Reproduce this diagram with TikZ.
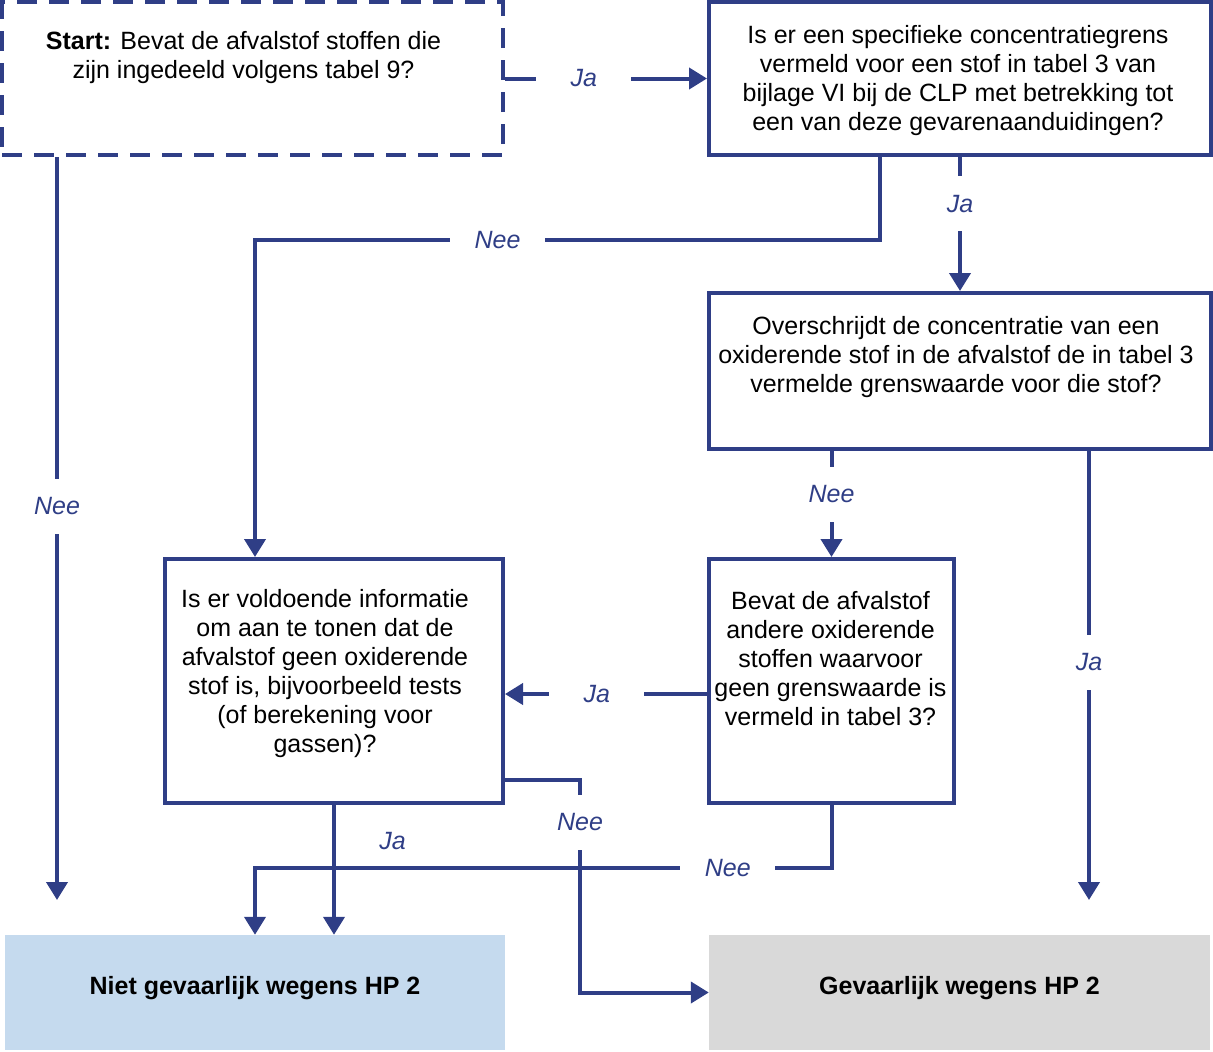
\documentclass[tikz,border=0pt]{standalone}
\usepackage{fontspec}
\setmainfont{Liberation Sans}
\usetikzlibrary{arrows.meta,positioning}
\definecolor{hpblauw}{RGB}{47,62,134}
\definecolor{hplicht}{RGB}{197,218,238}
\definecolor{hpgrijs}{RGB}{217,217,217}
\tikzset{
  vraag/.style={draw=hpblauw, line width=4pt, rectangle, inner sep=0pt},
  vraagtxt/.style={align=center, inner sep=0pt, anchor=north, font=\fontsize{25}{29}\selectfont},
  pijl/.style={draw=hpblauw, line width=4pt, -{Triangle[length=18pt,width=21pt]}},
  lbl/.style={fill=white, text=hpblauw, inner sep=0pt, minimum width=95pt, minimum height=55pt, font=\fontsize{25}{29}\selectfont\itshape},
  uitkomst/.style={rectangle, inner sep=0pt, text depth=15pt, font=\fontsize{25}{29}\selectfont\bfseries},
}
\begin{document}
\begin{tikzpicture}[x=1pt,y=-1pt]
    \useasboundingbox (0,0) rectangle (1213,1052);
    % vragen
    \node[vraag, dash pattern=on 20pt off 12pt, minimum width=501pt, minimum height=153pt] (start) at (252.5,78.5) {};
    \node[vraag, minimum width=502pt, minimum height=153pt] (clp) at (960,78.5) {};
    \node[vraag, minimum width=502pt, minimum height=156pt] (grens) at (960,371) {};
    \node[vraag, minimum width=338pt, minimum height=244pt] (info) at (334,681) {};
    \node[vraag, minimum width=245pt, minimum height=244pt] (andere) at (831.5,681) {};
    \node[vraagtxt] (starttxt) at ([xshift=-9pt,yshift=-31pt]start.north)
        {\textbf{Start:} Bevat de afvalstof stoffen die\\zijn ingedeeld volgens tabel 9?};
    \node[vraagtxt] (clptxt) at ([xshift=-2pt,yshift=-25pt]clp.north)
        {Is er een specifieke concentratiegrens\\vermeld voor een stof in tabel 3 van\\bijlage VI bij de CLP met betrekking tot\\een van deze gevarenaanduidingen?};
    \node[vraagtxt] (grenstxt) at ([xshift=-4pt,yshift=-25pt]grens.north)
        {Overschrijdt de concentratie van een\\oxiderende stof in de afvalstof de in tabel 3\\vermelde grenswaarde voor die stof?};
    \node[vraagtxt] (infotxt) at ([xshift=-9pt,yshift=-32pt]info.north)
        {Is er voldoende informatie\\om aan te tonen dat de\\afvalstof geen oxiderende\\stof is, bijvoorbeeld tests\\(of berekening voor\\gassen)?};
    \node[vraagtxt] (anderetxt) at ([xshift=-1pt,yshift=-34pt]andere.north)
        {Bevat de afvalstof\\andere oxiderende\\stoffen waarvoor\\geen grenswaarde is\\vermeld in tabel 3?};
    % uitkomsten
    \node[uitkomst, fill=hplicht, minimum width=500pt, minimum height=115pt] (niet) at (255,992.5) {Niet gevaarlijk wegens HP 2};
    \node[uitkomst, fill=hpgrijs, minimum width=501pt, minimum height=115pt] (gev) at (959.5,992.5) {Gevaarlijk wegens HP 2};
    \coordinate (nietl) at (57,900);
    \coordinate (gevr) at (1089,900);
    % pijlen
    \draw[pijl] (start.east) -- node[lbl, pos=0.39] {Ja} (clp.west);
    \draw[pijl] (start.south -| nietl) -- node[lbl, pos=0.47] {Nee} (nietl);
    \draw[pijl] ([xshift=-80pt]clp.south) -- ++(0,83) -| node[lbl, pos=0.306] {Nee} ([xshift=-79pt]info.north);
    \draw[pijl] (clp.south) -- node[lbl, pos=0.35] {Ja} (grens.north);
    \draw[pijl] (andere.north |- grens.south) -- node[lbl, pos=0.41] {Nee} (andere.north);
    \draw[pijl] (grens.south -| gevr) -- node[lbl, pos=0.47] {Ja} (gevr);
    \draw[pijl] ([yshift=-13pt]andere.west) -- node[lbl, pos=0.545] {Ja} ([yshift=-13pt]info.east);
    \draw[pijl] (andere.south) -- ++(0,63) -| node[lbl, pos=0.09] {Nee} (niet.north);
    \draw[pijl] (info.south) -- node[pos=0.28, right=40pt, text=hpblauw, font=\fontsize{25}{29}\selectfont\itshape] {Ja} (info.south |- niet.north);
    \draw[pijl] ([yshift=-99pt]info.east) -- ++(75,0) |- node[lbl, pos=0.1] {Nee} (gev.west);
\end{tikzpicture}
\end{document}
